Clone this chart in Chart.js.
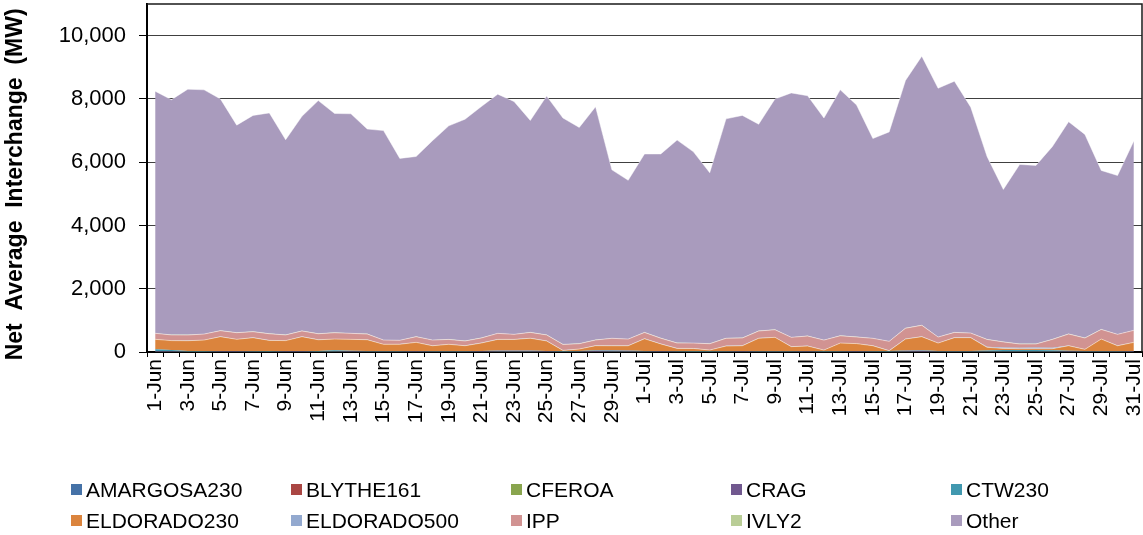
<!DOCTYPE html>
<html>
<head>
<meta charset="utf-8">
<script src="https://cdn.jsdelivr.net/npm/chart.js@4"></script>
<style>
  html, body { margin: 0; padding: 0; background: #fff; }
  #wrap { width: 1143px; height: 535px; position: relative; }
</style>
</head>
<body>
<div id="wrap"><canvas id="myChart"></canvas></div>
<script>
// DATA

var days = [];
for (var d = 1; d <= 30; d++) days.push(d + '-Jun');
for (var d = 1; d <= 31; d++) days.push(d + '-Jul');

var amargosa230 = [10,9,8,8,9,9,8,8,9,9,8,9,9,8,8,9,9,8,8,9,9,8,8,9,9,7,8,9,8,8,9,9,8,8,7,8,9,9,8,8,9,8,8,9,8,7,9,9,8,9,9,8,8,8,8,8,9,8,9,8,9];
var blythe161 = [3,3,2,2,3,3,2,2,3,3,2,2,3,3,2,2,3,3,2,2,3,3,2,2,3,2,2,3,3,2,2,3,3,2,2,3,3,2,2,3,3,2,2,3,3,2,2,3,3,2,2,3,3,2,2,3,3,2,2,3,3];
var cferoa = [5,5,4,4,5,6,5,4,5,5,4,5,5,4,5,6,5,4,5,5,4,5,5,6,5,4,5,5,4,5,5,6,5,4,5,5,4,5,6,5,5,4,5,5,4,5,6,5,4,5,5,4,5,5,6,5,4,5,5,4,5];
var crag = [5,5,5,5,5,5,5,5,5,5,5,5,5,5,5,5,5,5,5,5,8,25,25,20,8,5,5,25,28,25,8,5,5,5,5,5,5,5,5,5,5,5,5,5,5,5,22,25,8,5,5,5,5,5,5,5,5,5,5,5,5];
var ctw230 = [60,45,15,12,10,10,10,10,12,10,15,35,15,10,10,10,10,10,10,10,10,10,10,10,10,10,10,10,10,10,10,10,10,10,10,10,10,10,10,10,10,10,10,10,10,10,10,10,10,10,10,25,40,45,45,35,15,10,10,10,10];
var eldorado230 = [318,293,323,346,453,368,423,338,326,453,353,353,363,358,213,213,273,168,213,168,250,348,348,388,315,23,63,148,145,148,385,223,83,83,33,158,168,403,433,138,158,33,253,233,168,13,361,433,250,423,423,103,53,38,38,48,163,53,378,168,273];
var eldorado500 = [5,5,5,5,5,5,5,5,5,5,5,5,5,5,5,5,5,5,5,5,5,5,5,5,5,5,5,5,5,5,5,5,5,5,5,5,5,5,5,5,5,5,5,5,5,5,5,5,5,5,5,20,30,35,35,30,5,5,5,5,5];
var ipp = [185,175,175,185,185,205,185,205,175,175,185,195,185,175,130,120,175,175,150,145,155,185,155,180,185,185,165,175,230,205,195,175,165,165,195,240,240,225,235,290,310,310,225,205,230,290,335,355,185,160,140,230,175,115,115,265,365,355,300,355,375];
var ivly2 = [5,5,5,5,5,5,5,5,5,5,5,5,5,5,5,5,5,5,5,5,5,5,5,5,5,5,5,5,5,5,5,5,5,5,5,5,5,5,5,5,5,5,5,5,5,5,5,5,5,5,5,5,5,5,5,5,5,5,5,5,5];
var other = [7645,7430,7765,7715,7320,6555,6830,6975,6165,6780,7365,6925,6935,6475,6615,5745,5690,6295,6745,7005,7310,7555,7355,6695,7545,7150,6830,7365,5320,5015,5635,5820,6410,6040,5400,6930,7030,6530,7290,7720,7590,7015,7770,7330,6310,6615,7825,8500,7860,7935,7135,5775,4815,5670,5640,6085,6705,6430,5020,5015,5980];

var yTicks = [0, 2000, 4000, 6000, 8000, 10000];

var seriesNames = ['AMARGOSA230','BLYTHE161','CFEROA','CRAG','CTW230','ELDORADO230','ELDORADO500','IPP','IVLY2','Other'];
var seriesData = [amargosa230, blythe161, cferoa, crag, ctw230, eldorado230, eldorado500, ipp, ivly2, other];
var seriesColors = ['#4572A7','#AA4643','#89A54E','#71588F','#4198AF','#DB843D','#93A9CF','#D19392','#B9CD96','#A99BBD'];

var FONT = "'Liberation Sans', Arial, sans-serif";

// CHART

var datasets = seriesData.map(function(vals, i) {
  var big = (i === 5 || i === 7 || i === 9);
  return {
    label: seriesNames[i],
    data: vals,
    backgroundColor: seriesColors[i],
    borderColor: big ? 'rgba(255,255,255,0.45)' : seriesColors[i],
    borderWidth: big ? 1 : 0,
    pointRadius: 0,
    pointHoverRadius: 0,
    tension: 0,
    fill: i === 0 ? 'origin' : '-1'
  };
});

// grid style legend under the plot, 5 columns
var gridLegend = {
  id: 'gridLegend',
  afterDraw: function(chart) {
    var c = chart.ctx;
    c.save();
    c.font = '21px ' + FONT;
    c.textBaseline = 'middle';
    c.textAlign = 'left';
    seriesNames.forEach(function(name, i) {
      var x = 71 + (i % 5) * 220;
      var y = 490 + Math.floor(i / 5) * 31;
      c.fillStyle = seriesColors[i];
      c.fillRect(x, y - 6, 11, 11);
      c.fillStyle = '#000';
      c.fillText(name, x + 15, y + 1);
    });
    c.restore();
  }
};

// box around the plot area
var plotBox = {
  id: 'plotBox',
  afterDatasetsDraw: function(chart) {
    var a = chart.chartArea, c = chart.ctx;
    c.save();
    c.strokeStyle = '#1a1a1a';
    c.lineWidth = 1.5;
    c.beginPath();
    c.moveTo(a.left, a.top);
    c.lineTo(a.right, a.top);
    c.lineTo(a.right, a.bottom);
    c.stroke();
    c.restore();
  }
};

var ctx = document.getElementById('myChart').getContext('2d');

var chart = new Chart(ctx, {
  type: 'line',
  data: { labels: days, datasets: datasets },
  plugins: [gridLegend, plotBox],
  options: {
    responsive: true,
    maintainAspectRatio: false,
    animation: false,
    layout: { padding: { top: 4, right: 1, left: 0, bottom: 0 } },
    plugins: {
      legend: { display: false },
      tooltip: { enabled: false }
    },
    scales: {
      x: {
        type: 'category',
        offset: true,
        afterFit: function(s) {
          s.height = 183;
          s.paddingLeft = 0; s.paddingRight = 0;
        },
        grid: {
          offset: true,
          drawOnChartArea: false,
          drawTicks: true,
          tickLength: 5,
          color: '#000'
        },
        border: { display: true, color: '#000', width: 2 },
        ticks: {
          autoSkip: false,
          maxRotation: 90,
          minRotation: 90,
          padding: 2,
          color: '#000',
          font: { family: FONT, size: 21 },
          callback: function(val, idx) { return idx % 2 === 0 ? days[idx] : ''; }
        }
      },
      y: {
        stacked: true,
        min: 0,
        max: 11000,
        afterFit: function(s) {
          s.width = 147;
          s.paddingTop = 0; s.paddingBottom = 0;
        },
        afterBuildTicks: function(s) {
          s.ticks = yTicks.map(function(v) { return { value: v }; });
        },
        grid: {
          color: function(c) { return c.tick && c.tick.value === 0 ? 'rgba(0,0,0,0)' : '#404040'; },
          borderDash: [1, 1],
          lineWidth: 1,
          drawTicks: true,
          tickLength: 8,
          tickColor: '#000',
          tickBorderDash: []
        },
        border: { display: true, color: '#000', width: 2 },
        ticks: {
          padding: 13,
          color: '#000',
          font: { family: FONT, size: 22 },
          callback: function(v) { return v.toLocaleString('en-US'); }
        },
        title: {
          display: true,
          // trailing spaces nudge the text down a little
          text: 'Net  Average  Interchange  (MW)  ',
          color: '#000',
          padding: { top: 2, bottom: 0 },
          font: { family: FONT, size: 23, weight: 'bold' }
        }
      }
    }
  }
});
</script>
</body>
</html>
